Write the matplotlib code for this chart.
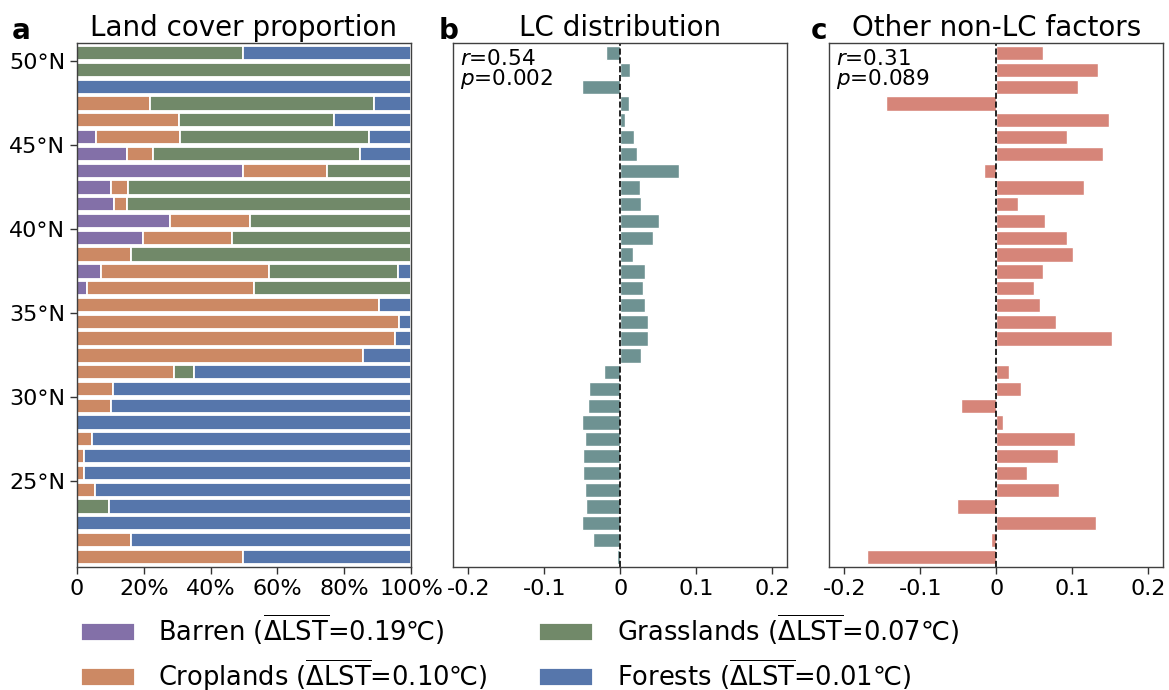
import numpy as np
import matplotlib
matplotlib.use("Agg")
import matplotlib.pyplot as plt

# latitude bands (bar centres), north to south
lats = np.arange(50.5, 20, -1)

# land cover share per band (%)
barren = [0, 0, 0, 0, 0, 5.8, 15, 49.8, 10.1, 11.2, 27.7, 19.7, 0, 7.2, 3,
          0, 0, 0, 0, 0, 0, 0, 0, 0, 0, 0, 0, 0, 0, 0, 0]
crop = [0, 0, 0, 21.8, 30.5, 25.1, 7.7, 25, 5.3, 3.8, 24.1, 26.7, 16.3, 50.2, 50.1,
        90.3, 96.4, 95.3, 85.5, 29.1, 10.8, 10.2, 0, 4.4, 2, 2, 5.5, 0, 0, 16.3, 49.8]
grass = [49.8, 100, 0, 67, 46.3, 56.5, 61.9, 25.2, 84.6, 85, 48.2, 53.6, 83.7, 38.6, 46.9,
         0, 0, 0, 0, 5.9, 0, 0, 0, 0, 0, 0, 0, 9.6, 0, 0, 0]
forest = [50.2, 0, 100, 11.2, 23.2, 12.6, 15.4, 0, 0, 0, 0, 0, 0, 4, 0,
          9.7, 3.6, 4.7, 14.5, 65, 89.2, 89.8, 100, 95.6, 98, 98, 94.5, 90.4, 100, 83.7, 50.2]

# dLST contributions
lc_part = [-0.019, 0.013, -0.051, 0.012, 0.006, 0.018, 0.022, 0.077, 0.026, 0.027,
           0.051, 0.043, 0.017, 0.033, 0.030, 0.032, 0.037, 0.036, 0.027, -0.021,
           -0.041, -0.042, -0.051, -0.047, -0.049, -0.049, -0.046, -0.045, -0.051, -0.036, -0.005]
other_part = [0.061, 0.134, 0.107, -0.145, 0.149, 0.093, 0.140, -0.016, 0.116, 0.029,
              0.064, 0.093, 0.101, 0.062, 0.050, 0.057, 0.079, 0.152, 0.0, 0.017,
              0.032, -0.047, 0.009, 0.104, 0.081, 0.041, 0.082, -0.052, 0.131, -0.007, -0.170]

lc_names = ["Barren", "Croplands", "Grasslands", "Forests"]
lc_dlst = ["0.19", "0.10", "0.07", "0.01"]
lc_colors = ["#8370a8", "#cc8964", "#718969", "#5676ab"]

fig = plt.figure(figsize=(11.69, 6.9), dpi=100)
W, H = 1169.0, 690.0
bottom = 1 - 567 / H
height = (567 - 43) / H
ax_a = fig.add_axes([77 / W, bottom, 334 / W, height])
ax_b = fig.add_axes([453.3 / W, bottom, 334 / W, height])
ax_c = fig.add_axes([829.3 / W, bottom, 334 / W, height])

# panel a: stacked proportions
left = np.zeros(len(lats))
handles = []
for vals, name, dl, col in zip([barren, crop, grass, forest], lc_names, lc_dlst, lc_colors):
    vals = np.array(vals, dtype=float)
    h = ax_a.barh(lats, vals, left=left, height=0.85, color=col,
                  edgecolor="white", linewidth=1.3,
                  label=name + r" ($\overline{\Delta\mathrm{LST}}$=" + dl + "℃)")
    handles.append(h)
    left += vals
ax_a.set_xlim(0, 100)
ax_a.set_xticks([0, 20, 40, 60, 80, 100])
ax_a.set_xticklabels(["0", "20%", "40%", "60%", "80%", "100%"])
ax_a.set_yticks([25, 30, 35, 40, 45, 50])
ax_a.set_yticklabels(["25°N", "30°N", "35°N", "40°N", "45°N", "50°N"])
ax_a.set_title("Land cover proportion", fontsize=20, pad=5)

# panels b and c
for ax, vals, col, r, p, title in [
        (ax_b, lc_part, "#6e9292", "0.54", "0.002", "LC distribution"),
        (ax_c, other_part, "#d68579", "0.31", "0.089", "Other non-LC factors")]:
    ax.barh(lats, vals, height=0.85, color=col, edgecolor="white", linewidth=1.0)
    ax.axvline(0, color="k", ls="--", lw=1.2)
    ax.set_xlim(-0.22, 0.22)
    ax.set_xticks([-0.2, -0.1, 0, 0.1, 0.2])
    ax.set_xticklabels(["-0.2", "-0.1", "0", "0.1", "0.2"])
    ax.set_yticks([])
    ax.set_title(title, fontsize=20, pad=5)
    ax.text(0.02, 0.958, "$r$=" + r, transform=ax.transAxes, fontsize=15.5, va="baseline")
    ax.text(0.02, 0.92, "$p$=" + p, transform=ax.transAxes, fontsize=15.5, va="baseline")

for ax in [ax_a, ax_b, ax_c]:
    ax.set_ylim(19.9, 51.1)
    ax.tick_params(labelsize=16, length=5, width=1, color="0.2")
    for s in ax.spines.values():
        s.set_color("0.25")
        s.set_linewidth(1.0)

ax_a.text(-0.195, 1.008, "a", transform=ax_a.transAxes, fontsize=20, fontweight="bold")
ax_b.text(-0.045, 1.008, "b", transform=ax_b.transAxes, fontsize=20, fontweight="bold")
ax_c.text(-0.055, 1.008, "c", transform=ax_c.transAxes, fontsize=20, fontweight="bold")

fig.legend(handles=handles, loc="center", bbox_to_anchor=(520 / W, 1 - 653 / H),
           ncol=2, frameon=False, fontsize=18.5, handlelength=2.1, handletextpad=0.9,
           columnspacing=2.0, labelspacing=0.42)

fig.savefig("out.png", dpi=100)
